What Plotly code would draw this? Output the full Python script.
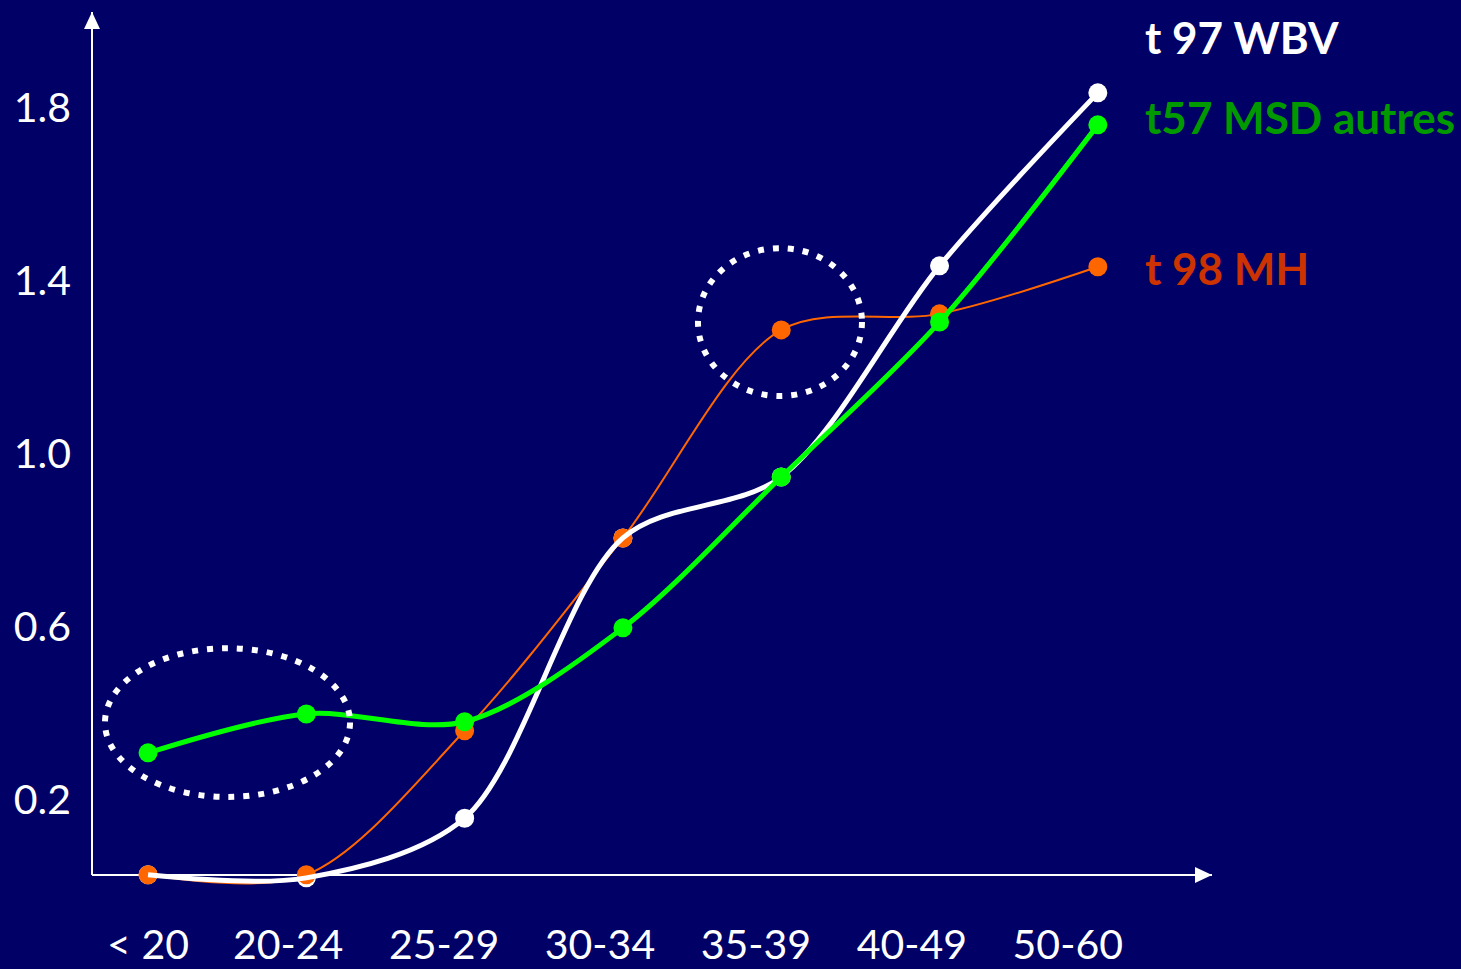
import plotly.graph_objects as go

categories = ["< 20", "20-24", "25-29", "30-34", "35-39", "40-49", "50-60"]
wbv = [0.027, 0.02, 0.158, 0.806, 0.947, 1.435, 1.835]
msd = [0.309, 0.399, 0.381, 0.598, 0.947, 1.305, 1.761]
mh = [0.027, 0.027, 0.36, 0.806, 1.287, 1.324, 1.433]
y_ticks = [0.2, 0.6, 1.0, 1.4, 1.8]
series_names = ["t 97 WBV", "t57 MSD autres", "t 98 MH"]

BG = "#000066"
W, H = 1461, 969
AXIS_Y = 875          # pixel row of the horizontal axis
EXTRA = 20            # plot area extends below the axis so baseline marks are not clipped
ML, MR, MT, MB = 92, 249, 12, H - AXIS_Y - EXTRA
PW, PH = W - ML - MR, H - MT - MB
YPX = 432.5
Y0 = 0.0266
X_RANGE = [-0.354, -0.354 + PW / 158.3]
Y_RANGE = [Y0 - EXTRA / YPX, Y0 - EXTRA / YPX + PH / YPX]
FONT = "Lato"
MS = 19

x = list(range(len(categories)))
tickvals = [0 if i == 0 else i * 0.985 - 0.1 for i in x]

fig = go.Figure()
fig.add_trace(go.Scatter(x=x, y=wbv, mode="markers", name=series_names[0], showlegend=False,
                         marker=dict(color="#ffffff", size=MS)))
fig.add_trace(go.Scatter(x=x, y=mh, mode="lines+markers", name=series_names[2],
                         line=dict(color="#ff6600", width=2, shape="spline", smoothing=0.9),
                         marker=dict(color="#ff6600", size=MS)))
fig.add_trace(go.Scatter(x=x, y=wbv, mode="lines", name=series_names[0],
                         line=dict(color="#ffffff", width=5, shape="spline", smoothing=0.9)))
fig.add_trace(go.Scatter(x=x, y=msd, mode="lines+markers", name=series_names[1],
                         line=dict(color="#00ff00", width=5, shape="spline", smoothing=0.9),
                         marker=dict(color="#00ff00", size=MS)))

def px_x(p):
    return (p - ML) / PW

def px_y(p):
    return (H - MB - p) / PH

shapes = []
# axis lines
shapes.append(dict(type="line", xref="paper", yref="paper", x0=0, x1=1,
                   y0=px_y(AXIS_Y), y1=px_y(AXIS_Y), line=dict(color="white", width=2), layer="below"))
shapes.append(dict(type="line", xref="paper", yref="paper", x0=0, x1=0,
                   y0=px_y(AXIS_Y), y1=1, line=dict(color="white", width=2), layer="below"))
# dotted ellipses
for (x0, x1, y0, y1) in [(-0.272, 1.276, 0.207, 0.551), (3.474, 4.51, 1.134, 1.476)]:
    shapes.append(dict(type="circle", xref="x", yref="y", x0=x0, x1=x1, y0=y0, y1=y1,
                       line=dict(color="white", width=6, dash="6px,9px")))
# arrow heads
hw, hl = 8, 17
shapes.append(dict(type="path", xref="paper", yref="paper",
                   path=f"M {px_x(ML)} {px_y(MT)} L {px_x(ML - hw)} {px_y(MT + hl)} L {px_x(ML + hw)} {px_y(MT + hl)} Z",
                   fillcolor="white", line=dict(width=0)))
xe = W - MR
shapes.append(dict(type="path", xref="paper", yref="paper",
                   path=f"M {px_x(xe)} {px_y(AXIS_Y)} L {px_x(xe - hl)} {px_y(AXIS_Y - hw)} L {px_x(xe - hl)} {px_y(AXIS_Y + hw)} Z",
                   fillcolor="white", line=dict(width=0)))

annotations = []
for name, color, py in [(series_names[0], "#ffffff", 37), (series_names[1], "#009900", 117),
                        (series_names[2], "#cc3300", 268)]:
    annotations.append(dict(text=f"<b>{name}</b>", xref="paper", yref="paper",
                            x=px_x(1143), y=px_y(py), xanchor="left", yanchor="middle",
                            showarrow=False, font=dict(family=FONT, size=44, color=color)))

fig.update_layout(
    width=W, height=H, margin=dict(l=ML, r=MR, t=MT, b=MB, autoexpand=False),
    paper_bgcolor=BG, plot_bgcolor=BG, showlegend=False,
    shapes=shapes, annotations=annotations,
    xaxis=dict(range=X_RANGE, tickvals=tickvals, ticktext=categories, showgrid=False,
               zeroline=False, showline=False,
               ticks="", ticklabelstandoff=22, automargin=False,
               tickfont=dict(family=FONT, size=41, color="white")),
    yaxis=dict(range=Y_RANGE, tickvals=y_ticks, ticktext=[f"{v:.1f}" for v in y_ticks],
               showgrid=False, zeroline=False, showline=False,
               ticks="", ticklabelstandoff=20, automargin=False,
               tickfont=dict(family=FONT, size=41, color="white")),
)

fig.write_html("out.html")
